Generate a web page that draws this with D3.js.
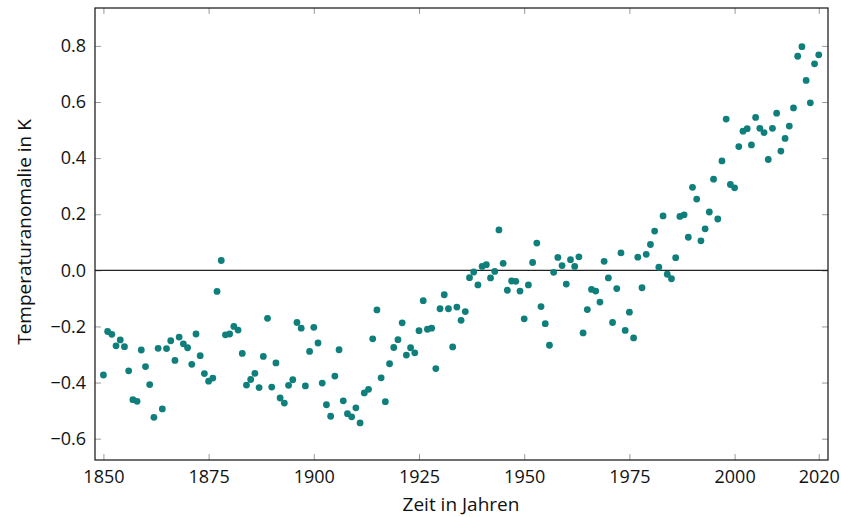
<!DOCTYPE html>
<html>
<head>
<meta charset="utf-8">
<script src="https://cdn.jsdelivr.net/npm/d3@7"></script>
<style>
  html, body { margin: 0; padding: 0; background: #fff; }
  svg { display: block; font-family: "Open Sans", "Noto Sans", sans-serif; }
  .tick text { fill: #111; font-size: 18px; }
  .tick line { stroke: #9a9a9a; stroke-width: 1; }
</style>
</head>
<body>
<svg id="chart" width="841" height="517"></svg>
<script>
// Annual global mean temperature anomaly (K), 1850-2020
const years = d3.range(1850, 2021);
const anomalies = [
  -0.373, -0.218, -0.228, -0.269, -0.248, -0.272, -0.358, -0.461, -0.467, -0.284,
  -0.343, -0.407, -0.524, -0.278, -0.494, -0.279, -0.251, -0.321, -0.238, -0.262,
  -0.276, -0.335, -0.227, -0.304, -0.368, -0.395, -0.384, -0.075, 0.035, -0.230,
  -0.227, -0.200, -0.213, -0.296, -0.409, -0.389, -0.367, -0.418, -0.307, -0.171,
  -0.416, -0.330, -0.455, -0.473, -0.410, -0.390, -0.186, -0.206, -0.412, -0.289,
  -0.203, -0.259, -0.402, -0.479, -0.520, -0.377, -0.283, -0.465, -0.511, -0.522,
  -0.490, -0.544, -0.437, -0.424, -0.244, -0.141, -0.383, -0.468, -0.333, -0.275,
  -0.247, -0.187, -0.302, -0.276, -0.294, -0.215, -0.108, -0.210, -0.206, -0.350,
  -0.137, -0.087, -0.137, -0.273, -0.131, -0.178, -0.147, -0.026, -0.006, -0.052,
  0.014, 0.020, -0.027, -0.004, 0.144, 0.025, -0.071, -0.038, -0.039, -0.074,
  -0.173, -0.052, 0.028, 0.097, -0.129, -0.190, -0.267, -0.007, 0.046, 0.017,
  -0.049, 0.038, 0.014, 0.048, -0.223, -0.140, -0.068, -0.074, -0.113, 0.032,
  -0.027, -0.186, -0.065, 0.062, -0.214, -0.149, -0.241, 0.047, -0.062, 0.057,
  0.092, 0.140, 0.011, 0.194, -0.014, -0.030, 0.045, 0.192, 0.198, 0.118,
  0.296, 0.254, 0.105, 0.148, 0.208, 0.325, 0.183, 0.390, 0.539, 0.306,
  0.294, 0.441, 0.496, 0.505, 0.447, 0.545, 0.506, 0.491, 0.395, 0.506,
  0.560, 0.425, 0.470, 0.514, 0.579, 0.763, 0.797, 0.677, 0.597, 0.736,
  0.768
];
const xTicks = [1850, 1875, 1900, 1925, 1950, 1975, 2000, 2020];
const yTicks = [-0.6, -0.4, -0.2, 0.0, 0.2, 0.4, 0.6, 0.8];
const xTitle = "Zeit in Jahren";
const yTitle = "Temperaturanomalie in K";

const plot = { left: 95, right: 828, top: 8, bottom: 460 };
const svg = d3.select("#chart");

const x = d3.scaleLinear().domain([1848, 2022.2]).range([plot.left, plot.right]);
const y = d3.scaleLinear().domain([-0.676, 0.935]).range([plot.bottom, plot.top]);
const fmt = d3.format(".1f");
const tickLen = 6;

// Axes with inward ticks on all four sides
const axisB = svg.append("g").attr("transform", `translate(0,${plot.bottom})`)
  .call(d3.axisBottom(x).tickValues(xTicks).tickFormat(d3.format("d"))
    .tickSizeInner(-tickLen).tickSizeOuter(0).tickPadding(10));
const axisT = svg.append("g").attr("transform", `translate(0,${plot.top})`)
  .call(d3.axisTop(x).tickValues(xTicks).tickFormat("")
    .tickSizeInner(-tickLen).tickSizeOuter(0));
const axisL = svg.append("g").attr("transform", `translate(${plot.left},0)`)
  .call(d3.axisLeft(y).tickValues(yTicks).tickFormat(fmt)
    .tickSizeInner(-tickLen).tickSizeOuter(0).tickPadding(9));
const axisR = svg.append("g").attr("transform", `translate(${plot.right},0)`)
  .call(d3.axisRight(y).tickValues(yTicks).tickFormat("")
    .tickSizeInner(-tickLen).tickSizeOuter(0));
const allAxes = [axisB, axisT, axisL, axisR];
allAxes.forEach(g => {
  g.select(".domain").remove();
  g.attr("font-family", null).attr("font-size", null);
});

// Zero reference line
svg.append("line")
  .attr("x1", plot.left).attr("x2", plot.right)
  .attr("y1", y(0)).attr("y2", y(0))
  .attr("stroke", "#222").attr("stroke-width", 1.2);

// Data points
svg.append("g").selectAll("circle")
  .data(years.map((yr, i) => ({ year: yr, value: anomalies[i] })))
  .join("circle")
  .attr("cx", d => x(d.year))
  .attr("cy", d => y(d.value))
  .attr("r", 3.4)
  .attr("fill", "#0f7f7c");

// Frame
svg.append("rect")
  .attr("x", plot.left).attr("y", plot.top)
  .attr("width", plot.right - plot.left).attr("height", plot.bottom - plot.top)
  .attr("fill", "none").attr("stroke", "#111").attr("stroke-width", 1.2);

// Axis titles
svg.append("text")
  .attr("x", 461).attr("y", 511)
  .attr("text-anchor", "middle").attr("font-size", 19).attr("fill", "#111")
  .text(xTitle);
svg.append("text")
  .attr("transform", "translate(30.5,232) rotate(-90)")
  .attr("text-anchor", "middle").attr("font-size", 19).attr("fill", "#111")
  .text(yTitle);
</script>
</body>
</html>
